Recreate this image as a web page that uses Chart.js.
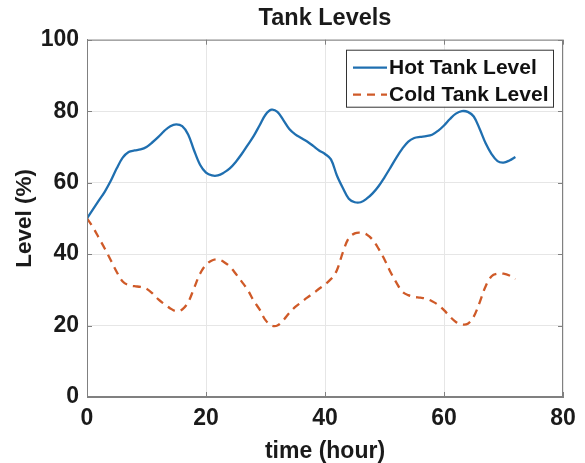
<!DOCTYPE html>
<html>
<head>
<meta charset="utf-8">
<script src="https://cdn.jsdelivr.net/npm/chart.js@4"></script>
<style>
  html, body { margin: 0; padding: 0; background: #ffffff; }
  #wrap { width: 585px; height: 463px; }
</style>
</head>
<body>
<div id="wrap"><canvas id="chart" width="585" height="463"></canvas></div>
<script>
// time axis, one reading per hour
const hours = [];
for (let h = 0; h <= 72; h++) hours.push(h);

const hotLevel = [
    50, 52.5, 55, 57.5, 60.5, 64, 67, 68.6, 69, 69.3,
    70, 71.3, 72.8, 74.5, 75.8, 76.3, 75.8, 73.5, 69, 65,
    62.8, 62, 62, 62.8, 64, 65.8, 68, 70.5, 73, 76,
    79, 80.4, 79.8, 77.5, 75, 73.5, 72.5, 71.5, 70.3, 69,
    68, 66.5, 62, 58.5, 55.5, 54.5, 54.5, 55.5, 57, 59,
    61.5, 64.2, 67, 69.5, 71.5, 72.5, 72.8, 73, 73.4, 74.5,
    76, 77.8, 79.3, 80, 79.8, 78.5, 75, 71, 68, 66,
    65.6, 66.2, 67.2
];

const coldLevel = [
    50, 47.5, 44.5, 41.5, 38.3, 35, 32.3, 31.3, 31, 30.8,
    30.3, 29, 27.3, 26, 24.8, 24, 24.5, 26.5, 30.5, 34.5,
    37, 38.2, 38.5, 37.8, 36.5, 34.5, 32.3, 30, 27, 24.5,
    21.5, 20, 20, 21.5, 23.5, 25.2, 26.5, 27.8, 29, 30.3,
    31.5, 33, 35.5, 40.5, 44.5, 45.8, 46, 45.5, 44, 41.5,
    38.5, 35, 32, 29.5, 28.5, 28, 27.8, 27.5, 26.8, 25.8,
    24.3, 22.5, 21, 20.3, 20.5, 22.5, 26.5, 31, 33.8, 34.5,
    34.5, 34, 33
];

const seriesNames = ['Hot Tank Level', 'Cold Tank Level'];
const xTicks = [0, 20, 40, 60, 80];
const yTicks = [0, 20, 40, 60, 80, 100];

const FONT = "'Liberation Sans', Arial, sans-serif";
const INK = '#1a1a1a';

// box around the plot area, inward tick marks, and a MATLAB-style legend
const boxAndLegend = {
    id: 'boxAndLegend',
    afterDatasetsDraw(chart) {
        const ctx = chart.ctx;
        const a = chart.chartArea;
        const sx = chart.scales.x, sy = chart.scales.y;
        ctx.save();
        ctx.strokeStyle = '#808080';
        ctx.lineWidth = 1;
        ctx.setLineDash([]);
        ctx.strokeRect(a.left + 0.5, a.top + 0.5, a.right - a.left - 1, a.bottom - a.top - 1);

        // little ticks pointing into the plot, like MATLAB does
        const tl = 5;
        ctx.beginPath();
        xTicks.forEach(v => {
            const px = Math.round(sx.getPixelForValue(v)) + 0.5;
            ctx.moveTo(px, a.bottom); ctx.lineTo(px, a.bottom - tl);
            ctx.moveTo(px, a.top); ctx.lineTo(px, a.top + tl);
        });
        yTicks.forEach(v => {
            const py = Math.round(sy.getPixelForValue(v)) + 0.5;
            ctx.moveTo(a.left, py); ctx.lineTo(a.left + tl, py);
            ctx.moveTo(a.right, py); ctx.lineTo(a.right - tl, py);
        });
        ctx.stroke();

        const w = 207, h = 57;
        const x0 = a.right - 10 - w, y0 = a.top + 10;
        ctx.fillStyle = '#ffffff';
        ctx.fillRect(x0, y0, w, h);
        ctx.strokeStyle = '#333333';
        ctx.strokeRect(x0 + 0.5, y0 + 0.5, w, h);

        ctx.font = 'bold 21px ' + FONT;
        ctx.textBaseline = 'middle';
        chart.data.datasets.forEach((ds, i) => {
            const cy = y0 + 18 + i * 27;
            ctx.strokeStyle = ds.borderColor;
            ctx.lineWidth = ds.borderWidth;
            ctx.setLineDash(ds.borderDash || []);
            ctx.beginPath();
            ctx.moveTo(x0 + 7, cy);
            ctx.lineTo(x0 + 41, cy);
            ctx.stroke();
            ctx.setLineDash([]);
            ctx.fillStyle = '#111111';
            ctx.fillText(ds.label, x0 + 43, cy + 1);
        });
        ctx.restore();
    }
};

const ctx = document.getElementById('chart').getContext('2d');
new Chart(ctx, {
    type: 'line',
    data: {
        datasets: [
            {
                label: seriesNames[0],
                data: hours.map((h, i) => ({ x: h, y: hotLevel[i] })),
                borderColor: '#1f6fb0',
                borderWidth: 2.3,
                pointRadius: 0,
                tension: 0.35,
                fill: false,
            },
            {
                label: seriesNames[1],
                data: hours.map((h, i) => ({ x: h, y: coldLevel[i] })),
                borderColor: '#cf5a28',
                borderWidth: 2.3,
                borderDash: [8, 6],
                pointRadius: 0,
                tension: 0.35,
                fill: false,
            },
        ],
    },
    options: {
        responsive: false,
        animation: false,
        layout: { padding: { left: 0, right: 22, top: 0, bottom: 0 } },
        plugins: {
            legend: { display: false },
            tooltip: { enabled: false },
            title: {
                display: true,
                fullSize: false,
                text: 'Tank Levels',
                color: INK,
                font: { family: FONT, size: 23.5, weight: 'bold' },
                padding: { top: 4, bottom: 7.5 }
            }
        },
        scales: {
            x: {
                type: 'linear',
                min: 0,
                max: 80,
                afterBuildTicks: (scale) => { scale.ticks = xTicks.map(v => ({ value: v })); },
                afterFit: (scale) => { scale.height = 66; },
                grid: { color: '#e6e6e6', drawTicks: false },
                border: { color: '#808080' },
                ticks: {
                    color: INK,
                    padding: 8,
                    font: { family: FONT, size: 23, weight: 'bold' }
                },
                title: {
                    display: true,
                    text: 'time (hour)',
                    color: INK,
                    font: { family: FONT, size: 23, weight: 'bold', lineHeight: 1 },
                    padding: { top: 0, bottom: 0 }
                }
            },
            y: {
                min: 0,
                max: 100,
                afterBuildTicks: (scale) => { scale.ticks = yTicks.map(v => ({ value: v })); },
                afterFit: (scale) => { scale.width = 87; },
                grid: { color: '#e6e6e6', drawTicks: false },
                border: { color: '#808080' },
                ticks: {
                    color: INK,
                    padding: 8,
                    font: { family: FONT, size: 23, weight: 'bold' }
                },
                title: {
                    display: true,
                    text: 'Level (%)',
                    color: INK,
                    font: { family: FONT, size: 22.5, weight: 'bold' },
                    padding: { top: 11, bottom: 0 }
                }
            }
        }
    },
    plugins: [boxAndLegend]
});
</script>
</body>
</html>
